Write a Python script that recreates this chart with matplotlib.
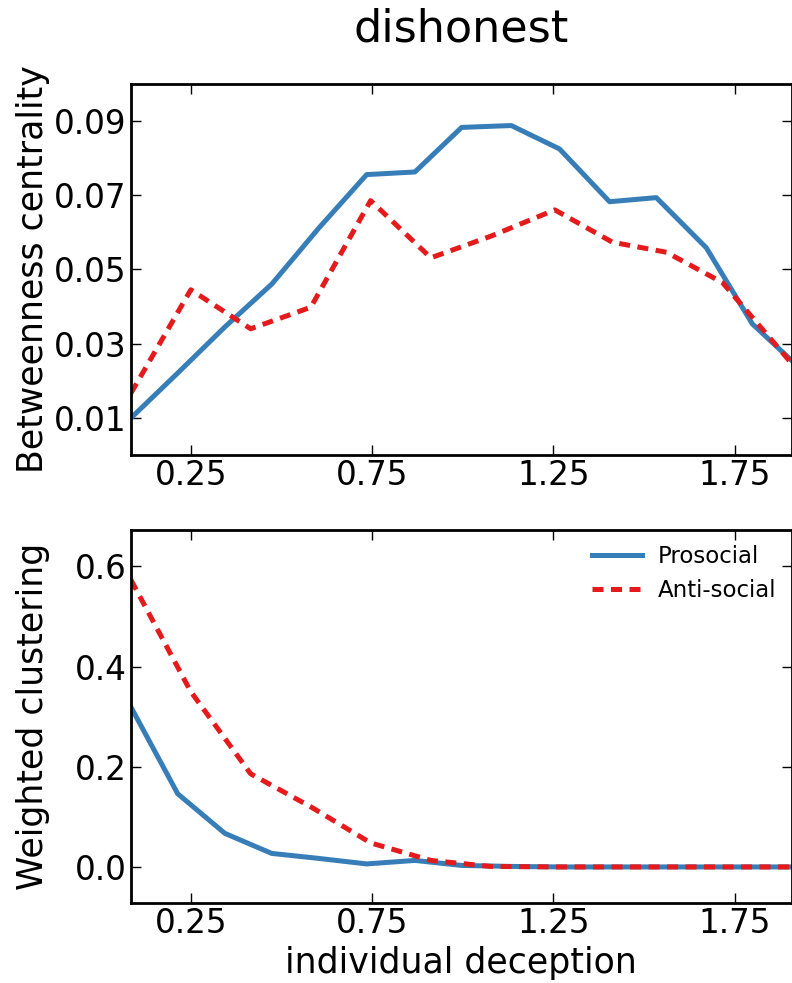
import numpy as np
import matplotlib
matplotlib.use('Agg')
import matplotlib.pyplot as plt

# values
x_pro = [0.085, 0.214, 0.344, 0.473, 0.603, 0.735, 0.868, 0.997, 1.134, 1.267, 1.405, 1.534, 1.672, 1.799, 1.907]
x_anti = [0.085, 0.25, 0.415, 0.581, 0.746, 0.912, 1.077, 1.254, 1.413, 1.562, 1.717, 1.907]

betw_pro = [0.0100, 0.0221, 0.0345, 0.0460, 0.0611, 0.0755, 0.0762, 0.0882, 0.0887, 0.0824, 0.0682, 0.0693, 0.0558, 0.0353, 0.0255]
betw_anti = [0.0167, 0.0445, 0.0340, 0.0398, 0.0685, 0.0531, 0.0589, 0.0660, 0.0573, 0.0546, 0.0464, 0.0247]

clust_pro = [0.319, 0.146, 0.067, 0.027, 0.017, 0.006, 0.013, 0.003, 0.001, 0.0, 0.0, 0.0, 0.0, 0.0, 0.0]
clust_anti = [0.573, 0.350, 0.186, 0.120, 0.048, 0.013, 0.001, 0.0, 0.0, 0.0, 0.0, 0.0]

xticks = [0.25, 0.75, 1.25, 1.75]
yticks_top = [0.01, 0.03, 0.05, 0.07, 0.09]
yticks_bot = [0.0, 0.2, 0.4, 0.6]

blue = '#377eb8'
red = '#e41a1c'

plt.rcParams['font.family'] = ['DejaVu Sans']

fig = plt.figure(figsize=(7.92, 9.83), dpi=100)
ax1 = fig.add_axes([0.1654, 0.537, 0.834, 0.378])
ax2 = fig.add_axes([0.1654, 0.0814, 0.834, 0.379])

for ax in (ax1, ax2):
    ax.tick_params(direction='in', top=True, right=True, length=7, width=1,
                   labelsize=23.5, pad=3)
    for s in ax.spines.values():
        s.set_linewidth(2)
    ax.set_xticks(xticks)
    ax.set_xticklabels(['%.2f' % t for t in xticks])
    ax.set_xlim(x_pro[0], x_pro[-1])

ax1.plot(x_pro, betw_pro, color=blue, lw=3.6)
ax1.plot(x_anti, betw_anti, color=red, lw=3.6, ls=(0, (2.2, 1.5)))
ax1.set_ylim(0, 0.1)
ax1.set_yticks(yticks_top)
ax1.set_yticklabels(['%.2f' % t for t in yticks_top])
ax1.set_ylabel('Betweenness centrality', fontsize=25)
ax1.yaxis.set_label_coords(-0.122, 0.5)
ax1.set_title('dishonest', fontsize=32, pad=30)

ax2.plot(x_pro, clust_pro, color=blue, lw=3.6, label='Prosocial')
ax2.plot(x_anti, clust_anti, color=red, lw=3.6, ls=(0, (2.2, 1.5)), label='Anti-social')
ax2.set_ylim(-0.072, 0.672)
ax2.set_yticks(yticks_bot)
ax2.set_yticklabels(['%.1f' % t for t in yticks_bot])
ax2.set_ylabel('Weighted clustering', fontsize=25)
ax2.yaxis.set_label_coords(-0.122, 0.5)
ax2.set_xlabel('individual deception', fontsize=25, labelpad=4)
ax2.legend(loc='upper right', frameon=False, fontsize=16.5, handlelength=2.2,
           handletextpad=0.7, labelspacing=0.45, borderaxespad=0.25)

fig.savefig('out.png', dpi=100)
